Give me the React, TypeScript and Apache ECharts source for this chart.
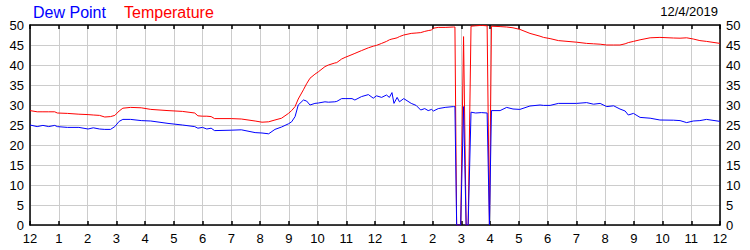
import React, { useEffect, useRef } from "react";
import * as echarts from "echarts";

const hourLabels = ["12","1","2","3","4","5","6","7","8","9","10","11","12","1","2","3","4","5","6","7","8","9","10","11","12"];
const yTicks = [0, 5, 10, 15, 20, 25, 30, 35, 40, 45, 50];

const times = [
  0.00, 0.25, 0.45, 0.65, 0.86, 0.95, 1.3, 1.7, 2.02, 2.2, 2.42, 2.6, 2.8, 2.95, 3.1, 3.23, 3.5, 3.87, 4.2, 4.8,
  5.3, 5.73, 5.84, 6.0, 6.15, 6.3, 6.42, 7.0, 7.35, 7.83, 8.07, 8.3, 8.52, 8.75, 8.99, 9.1, 9.22, 9.33, 9.51, 9.62,
  9.74, 9.91, 10.03, 10.26, 10.38, 10.6, 10.67, 10.84, 10.96, 11.2, 11.3, 11.53, 11.77, 11.94, 12.05, 12.23, 12.4, 12.5, 12.59, 12.66,
  12.77, 12.85, 13.0, 13.26, 13.43, 13.59, 13.73, 13.85, 13.97, 14.03, 14.2, 14.44, 14.73, 14.78, 14.84, 14.98, 15.08, 15.17, 15.24, 15.34,
  15.5, 15.7, 15.9, 15.98, 16.05, 16.35, 16.58, 16.8, 17.04, 17.39, 17.74, 17.86, 18.09, 18.38, 19.01, 19.36, 19.6, 19.83, 20.06, 20.3,
  20.52, 20.7, 20.81, 20.99, 21.22, 21.57, 21.91, 22.38, 22.61, 22.84, 23.07, 23.3, 23.53, 24.0,
];

const temperature = [
  28.6, 28.3, 28.3, 28.3, 28.3, 28.0, 27.9, 27.7, 27.6, 27.5, 27.4, 27.0, 27.1, 27.4, 28.5, 29.2, 29.4, 29.3, 28.9, 28.6,
  28.4, 28.0, 27.3, 27.2, 27.2, 27.1, 26.6, 26.6, 26.5, 26.0, 25.7, 25.8, 26.25, 26.7, 27.9, 28.6, 29.6, 31.5, 33.8, 35.3,
  36.7, 37.7, 38.3, 39.6, 40.0, 40.5, 40.6, 41.5, 41.9, 42.6, 42.9, 43.6, 44.3, 44.7, 44.9, 45.4, 45.9, 46.3, 46.5, 46.6,
  46.8, 47.1, 47.5, 47.9, 48.0, 48.1, 48.4, 48.6, 48.75, 49.2, 49.4, 49.4, 49.5, 49.5, 0, 0, 47.1, 0, 0, 49.7,
  49.8, 49.9, 49.8, 0, 49.7, 49.6, 49.5, 49.3, 48.9, 47.9, 47.2, 46.9, 46.6, 46.1, 45.7, 45.4, 45.3, 45.2, 45.0, 45.0,
  45.0, 45.3, 45.6, 45.9, 46.3, 46.8, 46.9, 46.75, 46.7, 46.8, 46.5, 46.1, 45.9, 45.4,
];

const dewPoint = [
  25.0, 24.6, 24.9, 24.6, 24.9, 24.6, 24.4, 24.4, 24.0, 24.3, 24.0, 23.9, 23.9, 24.6, 25.9, 26.4, 26.4, 26.1, 26.0, 25.4,
  25.0, 24.6, 24.2, 24.4, 24.0, 24.2, 23.6, 23.7, 23.8, 23.1, 23.0, 22.8, 23.9, 24.5, 25.3, 25.8, 27.1, 30.0, 31.25, 31.0,
  30.0, 30.4, 30.5, 30.8, 30.7, 30.8, 30.9, 31.6, 31.6, 31.6, 31.25, 32.1, 32.6, 31.7, 32.3, 31.9, 32.5, 31.9, 33.1, 30.4,
  31.9, 30.8, 31.6, 30.4, 29.9, 28.75, 29.1, 28.6, 28.9, 28.5, 29.1, 29.4, 29.6, 29.6, 0, 0, 29.6, 0, 0, 28.2,
  28.0, 28.1, 28.0, 0, 28.6, 28.6, 29.4, 29.0, 28.9, 29.75, 30.0, 29.9, 29.9, 30.4, 30.4, 30.6, 30.2, 30.4, 29.6, 29.8,
  29.0, 28.5, 27.5, 27.9, 26.9, 26.7, 26.25, 26.2, 26.1, 25.6, 26.0, 26.1, 26.4, 25.9,
];

const dateLabel = "12/4/2019";

export default function App() {
  const ref = useRef<HTMLDivElement>(null);
  useEffect(() => {
    if (!ref.current) return;
    const chart = echarts.init(ref.current, null, { renderer: "svg" });
    const font = "Arial, 'Liberation Sans', sans-serif";
    const tempData = times.map((t, i) => [t, temperature[i]]);
    const dewData = times.map((t, i) => [t, dewPoint[i]]);
    chart.setOption({
      animation: false,
      backgroundColor: "#ffffff",
      textStyle: { fontFamily: font },
      grid: { left: 30, right: 30, top: 25, bottom: 25, containLabel: false },
      graphic: [
        { type: "text", left: 33, top: 4, style: { text: "Dew Point", fill: "#0000ff", font: `16px ${font}` } },
        { type: "text", left: 124, top: 4, style: { text: "Temperature", fill: "#ff0000", font: `16px ${font}` } },
        { type: "text", right: 32, top: 5, style: { text: dateLabel, fill: "#000000", font: `13px ${font}` } },
      ],
      xAxis: [
        {
          type: "value", position: "bottom", min: 0, max: 24, interval: 1,
          axisLine: { show: true, onZero: false, lineStyle: { color: "#000", width: 1.5 } },
          axisTick: { show: true, inside: true, length: 4, lineStyle: { color: "#000", width: 1.5 } },
          axisLabel: { show: true, margin: 7, color: "#000", fontSize: 13, fontFamily: font, formatter: (v: number) => hourLabels[Math.round(v)] ?? "" },
          splitLine: { show: true, lineStyle: { color: "#cccccc", width: 1 } },
        },
        {
          type: "value", position: "top", min: 0, max: 24, interval: 1,
          axisLine: { show: true, onZero: false, lineStyle: { color: "#000", width: 1.5 } },
          axisTick: { show: true, inside: true, length: 4, lineStyle: { color: "#000", width: 1.5 } },
          axisLabel: { show: false },
          splitLine: { show: false },
        },
      ],
      yAxis: [
        {
          type: "value", position: "left", min: yTicks[0], max: yTicks[yTicks.length - 1], interval: 5,
          axisLine: { show: true, onZero: false, lineStyle: { color: "#000", width: 1.5 } },
          axisTick: { show: false },
          axisLabel: { show: true, margin: 6, color: "#000", fontSize: 13, fontFamily: font },
          splitLine: { show: true, lineStyle: { color: "#cccccc", width: 1 } },
        },
        {
          type: "value", position: "right", min: yTicks[0], max: yTicks[yTicks.length - 1], interval: 5,
          axisLine: { show: true, onZero: false, lineStyle: { color: "#000", width: 1.5 } },
          axisTick: { show: false },
          axisLabel: { show: true, margin: 6, color: "#000", fontSize: 13, fontFamily: font },
          splitLine: { show: false },
        },
      ],
      series: [
        {
          name: "Temperature", type: "line", data: tempData, xAxisIndex: 0, yAxisIndex: 0,
          showSymbol: false, symbol: "none", lineStyle: { color: "#ff0000", width: 1 }, itemStyle: { color: "#ff0000" },
        },
        {
          name: "Dew Point", type: "line", data: dewData, xAxisIndex: 0, yAxisIndex: 0,
          showSymbol: false, symbol: "none", lineStyle: { color: "#0000ff", width: 1 }, itemStyle: { color: "#0000ff" },
        },
      ],
    });
    return () => chart.dispose();
  }, []);
  return <div ref={ref} style={{ position: "absolute", left: 0, top: 0, width: 750, height: 250 }} />;
}
